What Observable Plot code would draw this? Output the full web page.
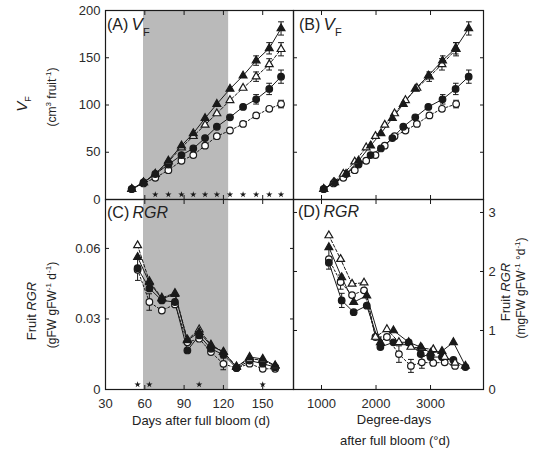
<!DOCTYPE html>
<html><head><meta charset="utf-8">
<script src="https://cdn.jsdelivr.net/npm/d3@7"></script>
<script src="https://cdn.jsdelivr.net/npm/@observablehq/plot@0.6"></script>
<style>
body{margin:0;background:#fff;}
#chart{position:relative;width:538px;height:450px;font-family:"Liberation Sans",Arial,Helvetica,sans-serif;color:#222;background:#fff;overflow:hidden;}
#chart svg{position:absolute;left:0;top:0;}
.lab{position:absolute;white-space:nowrap;line-height:1;}
.rot{transform:translate(-50%,-50%) rotate(-90deg);}
.ctr{transform:translate(-50%,-50%);}
</style></head><body><div id="chart"></div>
<script>
// ---------- data ----------
const days = [50, 59, 68, 78, 88, 97, 106, 115, 125, 135, 145, 155, 164];
const ddFilled = [1040, 1240, 1450, 1680, 1900, 2090, 2300, 2500, 2720, 2960, 3220, 3460, 3700];
const ddOpen   = [1040, 1220, 1400, 1610, 1820, 1990, 2160, 2340, 2540, 2750, 2980, 3210, 3470];
const volFilledTri  = [11, 18, 27, 41, 57, 70, 86, 101, 117, 131, 147, 160, 181];
const volOpenTri    = [11, 18, 27, 40, 55, 67, 79, 91, 105, 118, 130, 143, 159];
const volFilledCirc = [11, 18, 27, 37, 47, 54, 65, 77, 87, 98, 106, 117, 130];
const volOpenCirc   = [11, 17, 23, 31, 41, 47, 57, 67, 73, 80, 89, 96, 101];
// error bars (half-length), 0 = not visible
const seVolFilledTri  = [0, 0, 0, 0, 0, 0, 0, 0, 0, 0, 5, 6, 7];
const seVolOpenTri    = [0, 0, 0, 0, 0, 0, 0, 0, 0, 0, 5, 6, 7];
const seVolFilledCirc = [0, 0, 0, 0, 0, 0, 0, 0, 0, 0, 5, 6, 7];
const seVolOpenCirc   = [0, 0, 0, 0, 0, 0, 0, 0, 0, 0, 0, 0, 4];

const rgrDays = [54.5, 63.5, 73, 83, 92.5, 101.5, 110.5, 120, 130, 140, 150, 159.5];
const rgrFilledTri  = [0.0563, 0.0455, 0.0386, 0.0405, 0.0209, 0.0244, 0.0187, 0.0159, 0.0095, 0.0138, 0.0130, 0.0102];
const rgrOpenTri    = [0.0613, 0.0460, 0.0390, 0.0410, 0.0212, 0.0255, 0.0190, 0.0160, 0.0098, 0.0130, 0.0125, 0.0100];
const rgrFilledCirc = [0.0516, 0.0430, 0.0379, 0.0372, 0.0166, 0.0230, 0.0173, 0.0148, 0.0091, 0.0123, 0.0110, 0.0095];
const rgrOpenCirc   = [0.0509, 0.0372, 0.0336, 0.0362, 0.0201, 0.0216, 0.0159, 0.0109, 0.0091, 0.0110, 0.0088, 0.0088];
const seRgrOpenCirc = [0.0045, 0.0035, 0, 0, 0, 0, 0, 0.0025, 0, 0, 0, 0];

const rgrDdFilled = [1135, 1370, 1590, 1830, 2080, 2320, 2600, 2820, 3000, 3210, 3420, 3640];
const rgrDdOpen   = [1135, 1350, 1560, 1780, 1990, 2200, 2420, 2640, 2840, 3050, 3260, 3450];
const rgrDdFilledTri  = [2.41, 1.90, 1.48, 1.59, 0.80, 1.00, 0.80, 0.72, 0.62, 0.65, 0.80, 0.40];
const rgrDdOpenTri    = [2.61, 2.21, 1.79, 1.81, 0.89, 1.02, 0.80, 0.72, 0.70, 0.68, 0.55, 0.45];
const rgrDdFilledCirc = [2.15, 1.51, 1.31, 1.42, 0.72, 0.80, 0.80, 0.60, 0.55, 0.55, 0.50, 0.38];
const rgrDdOpenCirc   = [2.21, 1.82, 1.60, 1.68, 0.89, 0.89, 0.60, 0.40, 0.46, 0.45, 0.46, 0.40];
const seRgrDdOpenCirc   = [0.17, 0.12, 0, 0, 0, 0, 0.14, 0.11, 0.1, 0, 0, 0];
const seRgrDdFilledCirc = [0, 0.12, 0, 0, 0, 0, 0, 0, 0, 0, 0, 0];

const shadeDays = [59, 124];
const starDaysA = [68, 78, 88, 97, 106, 115, 125, 135, 145, 155, 164];
const starDaysC = [54.5, 63.5, 101.5, 150];

const dayTicks = [30, 60, 90, 120, 150];
const ddTicks = [1000, 2000, 3000];
const volTicks = [0, 50, 100, 150, 200];
const rgrTicks = [0, 0.03, 0.06];
const rgrDdTicks = [0, 1, 2, 3];

// ---------- helpers ----------
const W = 538, H = 450;
const ink = "#1a1a1a";
const zip = (xs, ys, se) => xs.map((x, i) => ({x, y: ys[i], se: se ? se[i] : 0}));

const seriesStyle = [
  {key: "openCirc",   symbol: "circle",   fill: "white", dash: "2,2", r: 3.3},
  {key: "filledCirc", symbol: "circle",   fill: ink,     dash: null,  r: 3.3},
  {key: "openTri",    symbol: "triangle", fill: "white", dash: "3,2", r: 2.9},
  {key: "filledTri",  symbol: "triangle", fill: ink,     dash: null,  r: 2.9}
];

function seriesMarks(dataByKey) {
  const lines = [], bars = [], dots = [];
  for (const s of seriesStyle) {
    const data = dataByKey[s.key];
    lines.push(Plot.line(data, {x: "x", y: "y", stroke: ink, strokeWidth: 1, strokeDasharray: s.dash}));
    const withSe = data.filter(d => d.se > 0);
    if (withSe.length) {
      bars.push(Plot.link(withSe, {x1: "x", x2: "x", y1: d => d.y - d.se, y2: d => d.y + d.se,
        stroke: ink, strokeWidth: 1, markerStart: "tick", markerEnd: "tick"}));
    }
    dots.push(Plot.dot(data, {x: "x", y: "y", symbol: s.symbol, r: s.r, fill: s.fill, stroke: ink, strokeWidth: 1.2}));
  }
  return [...lines, ...bars, ...dots];
}

function panel({left, right, top, bottom, xDomain, yDomain, marks}) {
  return Plot.plot({
    width: W, height: H,
    marginLeft: left, marginRight: W - right, marginTop: top, marginBottom: H - bottom,
    x: {domain: xDomain, label: null},
    y: {domain: yDomain, label: null},
    style: {background: "transparent", fontSize: "13px", fontFamily: '"Liberation Sans", Arial, sans-serif', color: "#2a2a2a", overflow: "visible"},
    marks
  });
}

const tick = {tickSize: -4, stroke: ink, label: null};
const noText = {...tick, fill: "none"};
const starMark = (xs) => Plot.dot(xs, {x: d => d, frameAnchor: "bottom", dy: -5, symbol: "star", r: 2, fill: ink, stroke: "none"});

const chart = document.getElementById("chart");

// Panel A
chart.append(panel({
  left: 105, right: 293, top: 10, bottom: 199,
  xDomain: [30, 173.5], yDomain: [0, 200],
  marks: [
    Plot.rect([shadeDays], {x1: d => d[0], x2: d => d[1], fill: "#bababa"}),
    ...seriesMarks({
      filledTri: zip(days, volFilledTri, seVolFilledTri), openTri: zip(days, volOpenTri, seVolOpenTri),
      filledCirc: zip(days, volFilledCirc, seVolFilledCirc), openCirc: zip(days, volOpenCirc, seVolOpenCirc)
    }),
    starMark(starDaysA),
    Plot.axisY({...tick, ticks: volTicks, tickPadding: 9, fill: "#2a2a2a", tickFormat: d => String(d)}),
    Plot.axisX({...noText, anchor: "bottom", ticks: dayTicks}),
    Plot.axisX({...noText, anchor: "top", ticks: dayTicks}),
    Plot.frame({stroke: ink, strokeWidth: 1.2})
  ]
}));

// Panel B
chart.append(panel({
  left: 293, right: 483, top: 10, bottom: 199,
  xDomain: [486, 3972], yDomain: [0, 200],
  marks: [
    ...seriesMarks({
      filledTri: zip(ddFilled, volFilledTri, seVolFilledTri), openTri: zip(ddOpen, volOpenTri, seVolOpenTri),
      filledCirc: zip(ddFilled, volFilledCirc, seVolFilledCirc), openCirc: zip(ddOpen, volOpenCirc, seVolOpenCirc)
    }),
    Plot.axisY({...noText, anchor: "left", ticks: volTicks}),
    Plot.axisY({...noText, anchor: "right", ticks: volTicks}),
    Plot.axisX({...noText, anchor: "bottom", ticks: ddTicks}),
    Plot.axisX({...noText, anchor: "top", ticks: ddTicks}),
    Plot.frame({stroke: ink, strokeWidth: 1.2})
  ]
}));

// Panel C
chart.append(panel({
  left: 105, right: 293, top: 199, bottom: 389,
  xDomain: [30, 173.5], yDomain: [0, 0.0808],
  marks: [
    Plot.rect([shadeDays], {x1: d => d[0], x2: d => d[1], fill: "#bababa"}),
    ...seriesMarks({
      filledTri: zip(rgrDays, rgrFilledTri), openTri: zip(rgrDays, rgrOpenTri),
      filledCirc: zip(rgrDays, rgrFilledCirc), openCirc: zip(rgrDays, rgrOpenCirc, seRgrOpenCirc)
    }),
    starMark(starDaysC),
    Plot.axisY({...tick, ticks: rgrTicks, tickPadding: 9, fill: "#2a2a2a", tickFormat: d => d === 0 ? "0" : d.toFixed(2)}),
    Plot.axisY({...noText, anchor: "right", ticks: rgrTicks}),
    Plot.axisX({...tick, anchor: "bottom", ticks: dayTicks, tickPadding: 13, fill: "#2a2a2a", tickFormat: d => String(d)}),
    Plot.axisX({...noText, anchor: "top", ticks: dayTicks}),
    Plot.frame({stroke: ink, strokeWidth: 1.2})
  ]
}));

// Panel D
chart.append(panel({
  left: 293, right: 483, top: 199, bottom: 389,
  xDomain: [486, 3972], yDomain: [0, 3.22],
  marks: [
    ...seriesMarks({
      filledTri: zip(rgrDdFilled, rgrDdFilledTri), openTri: zip(rgrDdOpen, rgrDdOpenTri),
      filledCirc: zip(rgrDdFilled, rgrDdFilledCirc, seRgrDdFilledCirc), openCirc: zip(rgrDdOpen, rgrDdOpenCirc, seRgrDdOpenCirc)
    }),
    Plot.axisY({...noText, anchor: "left", ticks: rgrDdTicks}),
    Plot.axisY({...tick, anchor: "right", ticks: rgrDdTicks, tickPadding: 9, fill: "#2a2a2a", tickFormat: d => String(d)}),
    Plot.axisX({...tick, anchor: "bottom", ticks: ddTicks, tickPadding: 13, fill: "#2a2a2a", tickFormat: d => String(d)}),
    Plot.axisX({...noText, anchor: "top", ticks: ddTicks}),
    Plot.frame({stroke: ink, strokeWidth: 1.2})
  ]
}));

// ---------- text labels ----------
function lab(html, css, cls) {
  const d = document.createElement("div");
  d.className = "lab " + (cls || "");
  d.innerHTML = html;
  d.style.cssText += css;
  chart.append(d);
}
const sub = (t, fs, va) => `<span style="font-size:${fs}px;vertical-align:${va}px">${t}</span>`;
const sup = (t) => `<span style="font-size:8px;vertical-align:5px">${t}</span>`;

lab(`(A)&#8201;<i style="font-size:17px">V</i>${sub("F", 11, -6)}`, "left:107px;top:16px;font-size:16px;");
lab(`(B)&#8201;<i style="font-size:17px">V</i>${sub("F", 11, -6)}`, "left:299px;top:16px;font-size:16px;");
lab(`(C)&#8201;<i>RGR</i>`, "left:107px;top:205px;font-size:16px;");
lab(`(D)&#8201;<i>RGR</i>`, "left:298px;top:204px;font-size:16px;");

lab(`<i>V</i>${sub("F", 9, -4)}`, "left:23px;top:104px;font-size:15px;", "rot");
lab(`(cm${sup("3")} fruit${sup("-1")})`, "left:51px;top:97px;font-size:12px;", "rot");
lab(`Fruit <i>RGR</i>`, "left:31px;top:311px;font-size:13px;", "rot");
lab(`(gFW gFW${sup("-1")} d${sup("-1")})`, "left:51px;top:305px;font-size:12px;", "rot");
lab(`Fruit <i>RGR</i>`, "left:505px;top:292px;font-size:13px;", "rot");
lab(`(mgFW gFW${sup("-1")} °d${sup("-1")})`, "left:520px;top:288px;font-size:12px;", "rot");

lab(`Days after full bloom (d)`, "left:201px;top:420px;font-size:13px;", "ctr");
lab(`Degree-days`, "left:394px;top:419px;font-size:13px;", "ctr");
lab(`after full bloom (°d)`, "left:395px;top:440px;font-size:13px;", "ctr");
</script></body></html>
